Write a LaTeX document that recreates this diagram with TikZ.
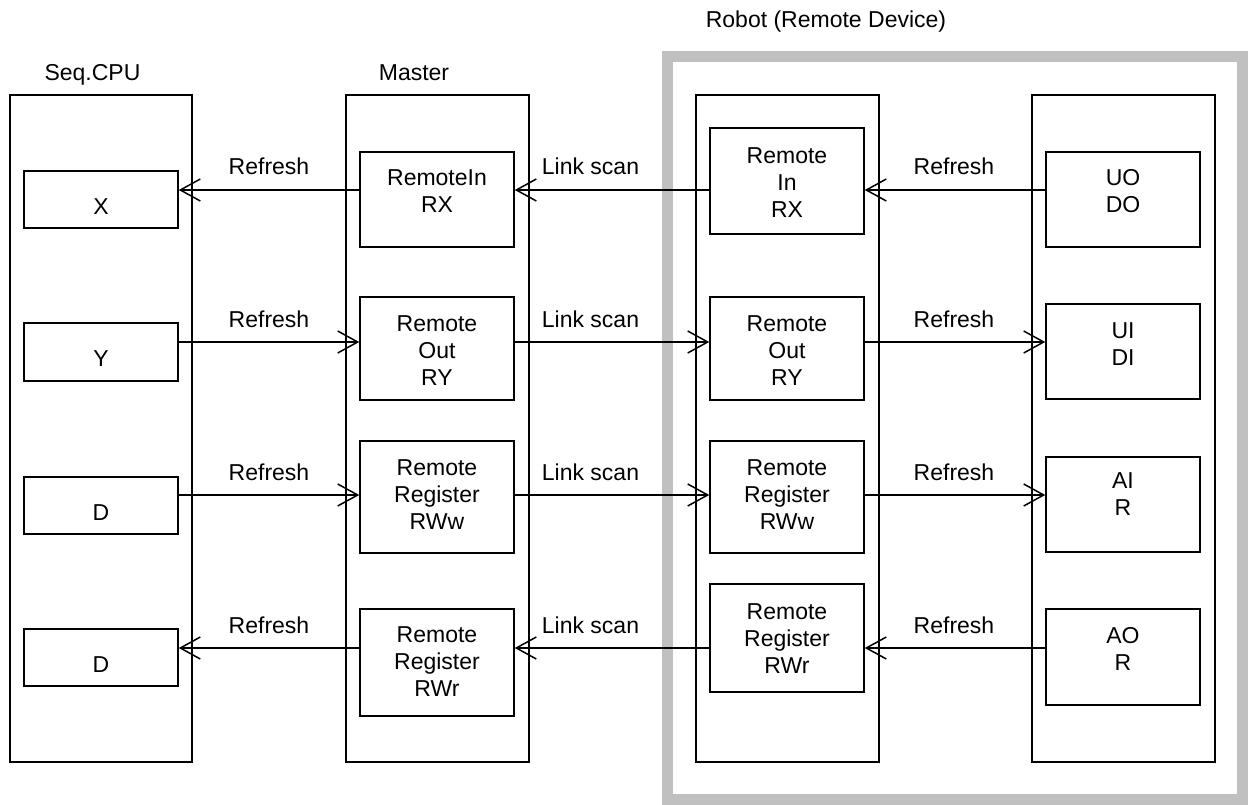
\documentclass[tikz,border=0pt]{standalone}
\usepackage{fontspec}
\setmainfont{Liberation Sans}
\usetikzlibrary{arrows.meta}
\definecolor{framegray}{RGB}{192,192,192}
\begin{document}
\begin{tikzpicture}[x=1pt,y=-1pt,
  every node/.style={font=\fontsize{23}{27}\selectfont},
  unit/.style={draw, line width=1.5pt, minimum width=183pt, minimum height=667pt, inner sep=0pt},
  cell/.style={draw, line width=1.5pt, minimum width=154pt, inner sep=0pt},
  txt/.style={align=center, anchor=north, inner sep=0pt},
  tag/.style={anchor=base, inner sep=0pt},
  flow/.style={line width=1.5pt, -{Straight Barb[length=20pt,width=22pt]}}
]
\useasboundingbox (0,0) rectangle (1248,805);

% remote device enclosure
\node[draw=framegray, line width=11pt, minimum width=575pt, minimum height=743pt, inner sep=0pt] (robotframe) at (955,428) {};

% headers
\node[tag] (hcpu) at (92.5,81) {Seq.CPU};
\node[tag] (hmaster) at (414,81) {Master};
\node[tag] (hrobot) at (826,28) {Robot (Remote Device)};

% station columns
\node[unit, minimum width=182pt] (cpu) at (101,428.5) {};
\node[unit] (master) at (437.5,428.5) {};
\node[unit] (robotl) at (787.5,428.5) {};
\node[unit] (robotr) at (1123.5,428.5) {};

% CPU devices
\node[cell, minimum height=57pt] (s1) at (101,199.5) {};
\node[cell, minimum height=58pt] (s2) at (101,352) {};
\node[cell, minimum height=57pt] (s3) at (101,505.5) {};
\node[cell, minimum height=57pt] (s4) at (101,657.5) {};
\node[txt] (s1t) at (101,198.2) {X};
\node[txt] (s2t) at (101,350.2) {Y};
\node[txt] (s3t) at (101,504.2) {D};
\node[txt] (s4t) at (101,656.2) {D};

% master buffers
\node[cell, minimum height=95pt] (m1) at (437,199.5) {};
\node[cell, minimum height=103pt] (m2) at (437,348.5) {};
\node[cell, minimum height=112pt] (m3) at (437,497) {};
\node[cell, minimum height=107pt] (m4) at (437,662.5) {};
\node[txt] (m1t) at (437,169.2) {RemoteIn\\RX};
\node[txt] (m2t) at (437,315.2) {Remote\\Out\\RY};
\node[txt] (m3t) at (437,459.2) {Remote\\Register\\RWw};
\node[txt] (m4t) at (437,626.2) {Remote\\Register\\RWr};

% robot link buffers
\node[cell, minimum height=106pt] (a1) at (787,181) {};
\node[cell, minimum height=103pt] (a2) at (787,348.5) {};
\node[cell, minimum height=112pt] (a3) at (787,497) {};
\node[cell, minimum height=108pt] (a4) at (787,638) {};
\node[txt] (a1t) at (787,147.2) {Remote\\In\\RX};
\node[txt] (a2t) at (787,315.2) {Remote\\Out\\RY};
\node[txt] (a3t) at (787,459.2) {Remote\\Register\\RWw};
\node[txt] (a4t) at (787,603.2) {Remote\\Register\\RWr};

% robot signals
\node[cell, minimum height=95pt] (b1) at (1123,199.5) {};
\node[cell, minimum height=95pt] (b2) at (1123,351.5) {};
\node[cell, minimum height=95pt] (b3) at (1123,504.5) {};
\node[cell, minimum height=96pt] (b4) at (1123,657) {};
\node[txt] (b1t) at (1123,169.2) {UO\\DO};
\node[txt] (b2t) at (1123,322.2) {UI\\DI};
\node[txt] (b3t) at (1123,472.2) {AI\\R};
\node[txt] (b4t) at (1123,627.2) {AO\\R};

% transfer rows
\coordinate (row1) at (0,190);
\coordinate (row2) at (0,342);
\coordinate (row3) at (0,495);
\coordinate (row4) at (0,648);

\draw[flow] (m1.west |- row1) -- (s1.east |- row1);
\draw[flow] (a1.west |- row1) -- (m1.east |- row1);
\draw[flow] (b1.west |- row1) -- (a1.east |- row1);

\draw[flow] (s2.east |- row2) -- (m2.west |- row2);
\draw[flow] (m2.east |- row2) -- (a2.west |- row2);
\draw[flow] (a2.east |- row2) -- (b2.west |- row2);

\draw[flow] (s3.east |- row3) -- (m3.west |- row3);
\draw[flow] (m3.east |- row3) -- (a3.west |- row3);
\draw[flow] (a3.east |- row3) -- (b3.west |- row3);

\draw[flow] (m4.west |- row4) -- (s4.east |- row4);
\draw[flow] (a4.west |- row4) -- (m4.east |- row4);
\draw[flow] (b4.west |- row4) -- (a4.east |- row4);

% transfer labels
\node[tag] (l1a) at (269,175) {Refresh};
\node[tag] (l1b) at (590.5,175) {Link scan};
\node[tag] (l1c) at (954,175) {Refresh};
\node[tag] (l2a) at (269,327) {Refresh};
\node[tag] (l2b) at (590.5,327) {Link scan};
\node[tag] (l2c) at (954,327) {Refresh};
\node[tag] (l3a) at (269,480) {Refresh};
\node[tag] (l3b) at (590.5,480) {Link scan};
\node[tag] (l3c) at (954,480) {Refresh};
\node[tag] (l4a) at (269,633) {Refresh};
\node[tag] (l4b) at (590.5,633) {Link scan};
\node[tag] (l4c) at (954,633) {Refresh};
\end{tikzpicture}
\end{document}
